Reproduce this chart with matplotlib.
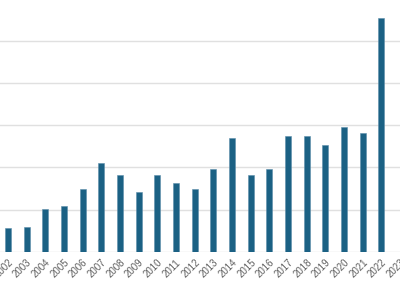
import matplotlib
matplotlib.use("Agg")
import matplotlib.pyplot as plt
import numpy as np

years = [str(y) for y in range(2002, 2024)]
values = [56, 59, 102, 109, 149, 210, 183, 141, 181, 164, 149,
          195, 270, 181, 197, 275, 275, 253, 296, 282, 554, np.nan]

bar_color = "#1b6184"

fig = plt.figure(figsize=(4.0, 2.86), dpi=100)
ax = fig.add_axes([0, 0.12, 1, 0.88])

x = np.arange(len(years))
ax.bar(x, values, width=0.33, color=bar_color, edgecolor="#5d8eab",
       linewidth=0.4, zorder=3)

ax.set_xlim(-0.424, 20.8)
ax.set_ylim(0, 597)
ax.set_yticks(np.arange(0, 600, 100))
ax.yaxis.grid(True, color="#e0e0e0", linewidth=1.0, zorder=0)
ax.tick_params(axis="y", left=False, labelleft=False)

ax.set_xticks(x)
ax.set_xticklabels(years, rotation=45, ha="right", rotation_mode="anchor",
                   fontsize=7, color="#5f5f5f", family="Liberation Sans")
ax.tick_params(axis="x", length=0, pad=4)

for s in ax.spines.values():
    s.set_visible(False)

fig.savefig("out.png", dpi=100)
